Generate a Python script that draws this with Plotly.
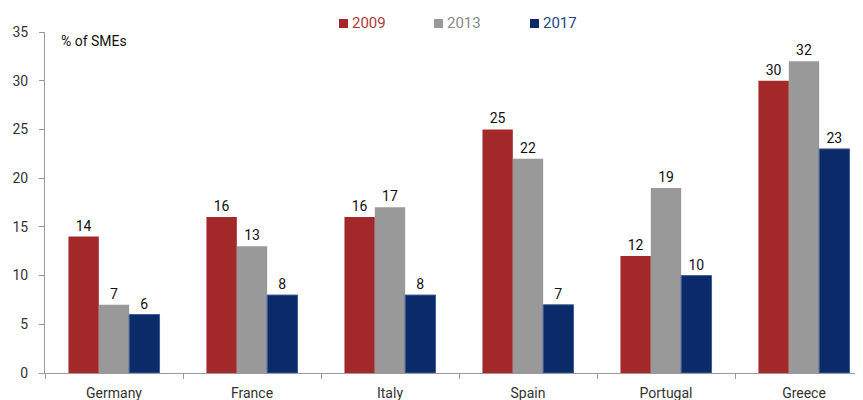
import plotly.graph_objects as go

categories = ["Germany", "France", "Italy", "Spain", "Portugal", "Greece"]
series_names = ["2009", "2013", "2017"]
v2009 = [14, 16, 16, 25, 12, 30]
v2013 = [7, 13, 17, 22, 19, 32]
v2017 = [6, 8, 8, 7, 10, 23]
colors = ["#A3282A", "#999999", "#0A2A6A"]
legend_text_colors = ["#B03A3A", "#8A8A8A", "#24478A"]
y_ticks = [0, 5, 10, 15, 20, 25, 30, 35]

FONT = "Roboto, sans-serif"
OFF = 8  # page body margin offset
W, H = 863, 400
# screen-space target geometry
S_LEFT, S_TOP, S_BOTTOM = 45, 32, 373
CAT_PX = 138
ML = S_LEFT - OFF
MT = S_TOP - OFF
MR = 0
MB = H - (S_BOTTOM - OFF)
PW, PH = W - ML - MR, H - MT - MB
X_MAX = -0.5 + PW / CAT_PX


def px_x(p):
    return (p - OFF - ML) / PW


def px_y(p):
    return (H - MB - (p - OFF)) / PH


fig = go.Figure()
for name, vals, col in zip(series_names, [v2009, v2013, v2017], colors):
    edge = dict(width=1, color="#3E5E94") if name == "2017" else dict(width=0)
    fig.add_trace(go.Bar(
        x=categories, y=vals, name=name,
        marker=dict(color=col, line=edge),
        text=[str(v) for v in vals], textposition="outside",
        textfont=dict(color="#111111", size=14, family=FONT),
        cliponaxis=False, showlegend=False,
    ))

shapes = []
annotations = [dict(text="% of SMEs", x=px_x(59), xref="paper", y=px_y(41), yref="paper",
                    xanchor="left", yanchor="middle", showarrow=False,
                    font=dict(size=14, color="#111111", family=FONT))]
leg_x = [339, 434, 530]
for name, col, tcol, lx in zip(series_names, colors, legend_text_colors, leg_x):
    shapes.append(dict(type="rect", xref="paper", yref="paper",
                       x0=px_x(lx), x1=px_x(lx + 9), y0=px_y(28), y1=px_y(19),
                       fillcolor=col, line=dict(width=0)))
    annotations.append(dict(text=name, x=px_x(lx + 11), xref="paper", y=px_y(23), yref="paper",
                            xanchor="left", yanchor="middle", showarrow=False,
                            font=dict(size=15, color=tcol, family=FONT)))

fig.update_layout(
    width=W, height=H,
    margin=dict(l=ML, r=MR, t=MT, b=MB, autoexpand=False),
    plot_bgcolor="white", paper_bgcolor="white",
    barmode="group", bargap=0.34, bargroupgap=0,
    font=dict(family=FONT, size=14, color="#333333"),
    showlegend=False,
    shapes=shapes, annotations=annotations,
)

fig.update_xaxes(
    range=[-0.5, X_MAX], showline=True, linecolor="#999999", linewidth=1,
    tickson="boundaries", ticks="outside", ticklen=5, tickcolor="#999999",
    ticklabelstandoff=7,
    tickfont=dict(size=14, color="#333333"), showgrid=False,
)
fig.update_yaxes(
    range=[0, 35], tickvals=y_ticks, showline=True, linecolor="#999999", linewidth=1,
    ticks="outside", ticklen=5, tickcolor="#999999", showgrid=False, zeroline=False,
    ticklabelstandoff=8,
    tickfont=dict(size=14, color="#333333"),
)

fig.write_html("out.html")
